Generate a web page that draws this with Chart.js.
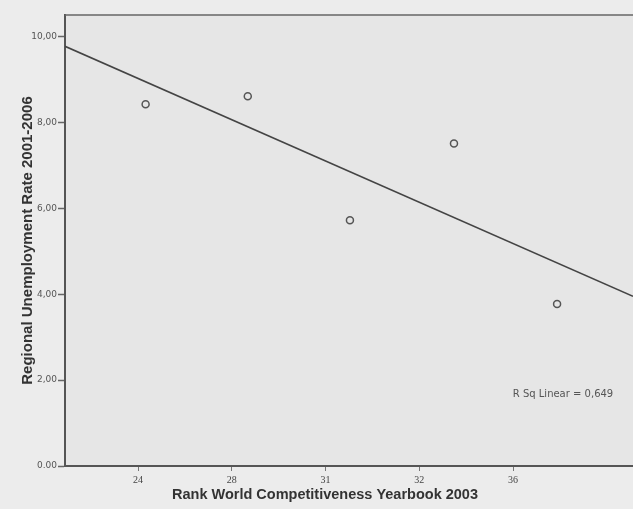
<!DOCTYPE html>
<html>
<head>
<meta charset="utf-8">
<script src="https://cdn.jsdelivr.net/npm/chart.js@4"></script>
<style>
  html, body { margin: 0; padding: 0; background: #ececec; overflow: hidden; }
  #wrap { width: 633px; height: 509px; }
</style>
</head>
<body>
<div id="wrap"><canvas id="scatter"></canvas></div>
<script>
// x tick labels, placed at tick positions 0..4 (one unit = one tick step)
const xTickLabels = ["24", "28", "31", "32", "36"];
const xTickPos = [0, 1, 2, 3, 4];
const pointX = [0.08, 1.17, 2.26, 3.37, 4.47];
const pointY = [8.42, 8.61, 5.72, 7.51, 3.77];
// fit line end points (left and right edge of the plot)
const fitX = [-0.78, 5.28];
const fitY = [9.77, 3.95];
const yTicks = [0, 2, 4, 6, 8, 10];
const yTickLabels = ["0.00", "2,00", "4,00", "6,00", "8,00", "10,00"];
const rSqText = "R Sq Linear = 0,649";
const xTitle = "Rank World Competitiveness Yearbook 2003";
const yTitle = "Regional Unemployment Rate 2001-2006";

const frame = {
  id: "frame",
  beforeDraw(chart) {
    const { ctx, chartArea: a } = chart;
    ctx.save();
    ctx.fillStyle = "#e6e6e6";
    ctx.fillRect(a.left, a.top, a.right - a.left, a.bottom - a.top);
    ctx.restore();
  },
  afterDraw(chart) {
    const { ctx, chartArea: a } = chart;
    ctx.save();
    ctx.strokeStyle = "#666";
    ctx.lineWidth = 1.5;
    ctx.beginPath();
    ctx.moveTo(a.left, a.top);
    ctx.lineTo(a.right, a.top);
    ctx.stroke();
    ctx.fillStyle = "#333";
    ctx.textAlign = "center";
    ctx.textBaseline = "middle";
    ctx.font = "bold 14.5px 'Liberation Sans', Arial, sans-serif";
    ctx.fillText(xTitle, 325, 495);
    ctx.fillStyle = "#555";
    ctx.font = "10px 'DejaVu Sans', sans-serif";
    ctx.fillText(rSqText, 563, 394);
    ctx.restore();
  }
};

new Chart(document.getElementById("scatter"), {
  type: "scatter",
  data: {
    datasets: [
      {
        label: "points",
        data: pointX.map((x, i) => ({ x, y: pointY[i] })),
        pointStyle: "circle",
        pointRadius: 3.5,
        pointBorderWidth: 1.5,
        borderColor: "#555",
        backgroundColor: "rgba(0,0,0,0)"
      },
      {
        label: "fit",
        type: "line",
        data: fitX.map((x, i) => ({ x, y: fitY[i] })),
        borderColor: "#444",
        borderWidth: 1.6,
        pointRadius: 0,
        fill: false
      }
    ]
  },
  options: {
    responsive: true,
    maintainAspectRatio: false,
    animation: false,
    layout: { autoPadding: false, padding: { top: 15, left: 0, right: 0, bottom: 0 } },
    plugins: { legend: { display: false }, tooltip: { enabled: false } },
    scales: {
      x: {
        type: "linear",
        min: fitX[0],
        max: fitX[1],
        afterBuildTicks: s => { s.ticks = xTickPos.map(v => ({ value: v })); },
        afterFit: s => { s.height = 43; s.paddingRight = 0; s.paddingLeft = 0; },
        grid: { drawOnChartArea: false, tickLength: 5, color: "#777", tickWidth: 1 },
        border: { color: "#555", width: 2 },
        ticks: {
          padding: 3,
          color: "#444",
          font: { family: "'Liberation Serif', serif", size: 10 },
          callback: (v) => xTickLabels[xTickPos.indexOf(v)]
        }
      },
      y: {
        min: 0,
        max: 10.5,
        afterBuildTicks: s => { s.ticks = yTicks.map(v => ({ value: v })); },
        afterFit: s => { s.width = 65; s.paddingTop = 0; s.paddingBottom = 0; },
        grid: { drawOnChartArea: false, tickLength: 7, color: "#666", tickWidth: 1.5 },
        border: { color: "#555", width: 2 },
        ticks: {
          padding: 1,
          color: "#555",
          font: { family: "'DejaVu Sans', sans-serif", size: 9 },
          callback: (v) => yTickLabels[yTicks.indexOf(v)]
        },
        title: {
          display: true,
          text: yTitle,
          color: "#333",
          font: { family: "'Liberation Sans', Arial, sans-serif", size: 15, weight: "bold" },
          padding: { top: 19, bottom: 0 }
        }
      }
    }
  },
  plugins: [frame]
});
</script>
</body>
</html>
